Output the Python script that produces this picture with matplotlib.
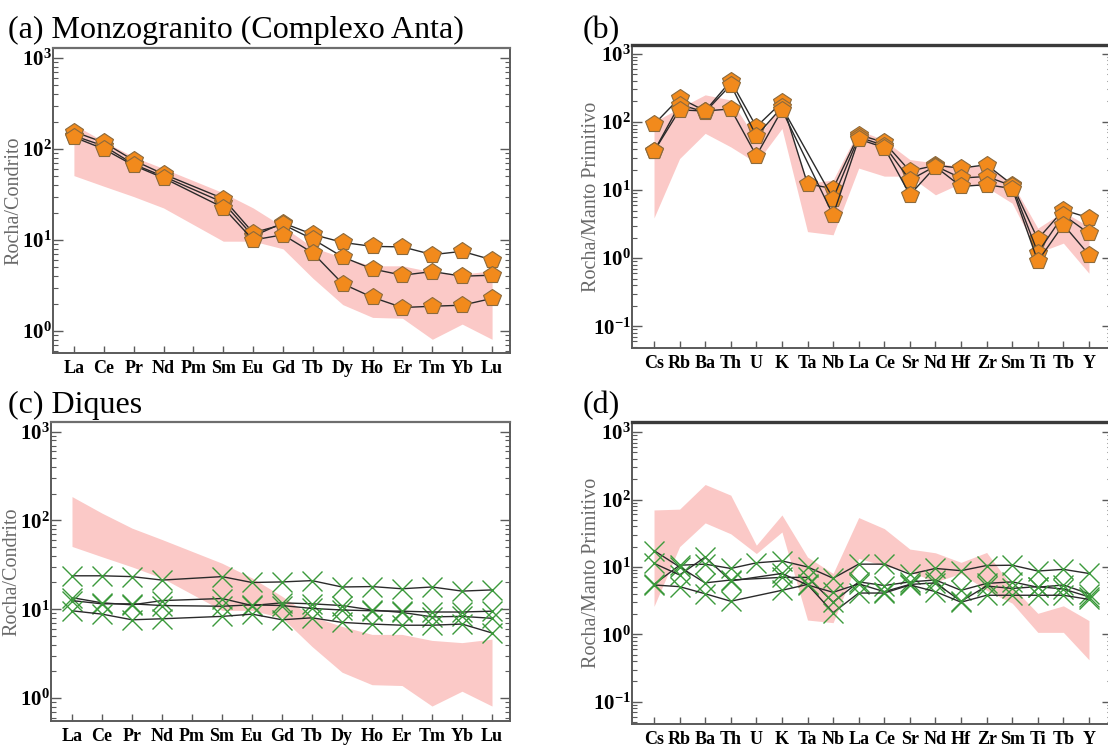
import numpy as np
import matplotlib
matplotlib.use("Agg")
import matplotlib.pyplot as plt
from matplotlib.ticker import FixedLocator, FuncFormatter, LogLocator, NullFormatter

plt.rcParams["font.family"] = ["Liberation Serif", "DejaVu Serif"]
plt.rcParams["mathtext.fontset"] = "custom"
plt.rcParams["mathtext.rm"] = "Liberation Serif"
plt.rcParams["mathtext.bf"] = "Liberation Serif:bold"
plt.rcParams["axes.unicode_minus"] = False

nan = np.nan

# ---- element lists -------------------------------------------------------
ree = ["La", "Ce", "Pr", "Nd", "Pm", "Sm", "Eu", "Gd", "Tb", "Dy", "Ho", "Er", "Tm", "Yb", "Lu"]
spider = ["Cs", "Rb", "Ba", "Th", "U", "K", "Ta", "Nb", "La", "Ce", "Sr", "Nd", "Hf", "Zr", "Sm", "Ti", "Tb", "Y"]

# ---- reference field (chondrite normalised) -------------------------------
ree_field_hi = [186, 121, 82, 61, nan, 33, 22.5, 14, 8.3, 6.4, 5.2, 5.2, 4.45, 4.2, 4.6]
ree_field_lo = [51, 39, 30, 22.5, nan, 9.7, 9.7, 8.0, 3.8, 1.95, 1.41, 1.38, 0.81, 1.19, 0.81]

# ---- reference field (primitive mantle normalised) ------------------------
pm_field_hi_b = [100, 160, 250, 210, 55, 188, 12.6, 14, 76, 54, 28, 25, 22, 23, 12.6, 2.75, 4.8, 2.9]
pm_field_lo_b = [3.9, 29, 68, 43, 25, 80, 2.45, 2.2, 21, 16, 16, 8.5, 12.6, 11, 6.4, 1.2, 1.66, 0.6]
pm_field_hi_d = [70, 72, 167, 116, 21, 59, 14, 8, 54, 37, 18.4, 16.2, 11.7, 16.4, 5.1, 2.05, 2.65, 1.6]
pm_field_lo_d = [2.6, 20, 45, 31, 15.8, 33, 1.63, 1.49, 13.4, 10.4, 8.5, 6.0, 8.0, 4.5, 2.9, 1.07, 1.07, 0.42]

# ---- monzogranite samples ------------------------------------------------
monzo_ree_1 = [140, 108, 68, 50, nan, 25.8, 11, 15.4, 11.5, 9.4, 8.5, 8.4, 6.9, 7.5, 6.05]
monzo_ree_2 = [155, 118, 75, 53, nan, 28.5, 12, 14.8, 10.2, 6.5, 4.8, 4.1, 4.5, 4.0, 4.1]
monzo_ree_3 = [135, 100, 66, 48, nan, 22.7, 10, 11.4, 7.2, 3.3, 2.34, 1.81, 1.87, 1.92, 2.28]

monzo_pm_1 = [92, 225, 145, 400, 85, 195, 12.3, 10.5, 65, 50, 19, 23, 21, 23.5, 12, 1.9, 5.1, 3.9]
monzo_pm_2 = [37, 180, 140, 350, 62, 165, nan, 7.5, 60, 45, 14, 22.5, 15, 15.8, 11.5, 1.2, 4.3, 2.3]
monzo_pm_3 = [37, 150, 145, 155, 32, 150, nan, 4.3, 56, 42, 8.5, 22, 11.3, 12, 10.5, 0.9, 3.1, 1.12]

# ---- dyke samples ----------------------------------------------------------
dike_ree_1 = [23.8, 23.8, 23.3, 21.3, nan, 23.3, 20, 20.3, 21, 17.8, 18, 17, 17.8, 16, 16.5]
dike_ree_2 = [13.5, 11.8, 11.2, 12.5, nan, 13.2, 11.0, 11.8, 11.5, 11.0, 9.8, 9.2, 8.2, 8.3, 7.9]
dike_ree_3 = [12.5, 11.5, 11.5, 11.0, nan, 10.8, 11.2, 11.0, 10.2, 9.8, 9.6, 9.5, 9.3, 9.3, 9.5]
dike_ree_4 = [9.6, 8.8, 7.6, 7.8, nan, 8.3, 8.8, 7.6, 8.0, 7.1, 6.8, 6.6, 6.6, 6.8, 5.4]

dike_pm_1 = [5.5, 10.6, 11.0, 9.5, 11.5, 12.3, 10.0, 6.8, 11.0, 11.0, 7.8, 9.5, 8.8, 10.5, 10.6, 8.7, 9.2, 8.0]
dike_pm_2 = [17.5, 10.0, 5.8, 6.4, nan, 7.0, 7.0, 3.0, 6.0, 5.3, 6.0, 6.4, 4.5, 5.7, 6.0, 5.0, 5.4, 4.0]
dike_pm_3 = [11.3, 7.6, 14.0, 6.2, nan, 8.0, 5.4, 4.2, 5.6, 4.3, 5.5, 5.8, 3.1, 5.2, 4.8, 5.1, 4.7, 3.6]
dike_pm_4 = [5.4, 5.1, 4.0, 3.1, nan, 4.5, 5.5, 2.1, 4.1, 4.1, 5.4, 4.3, 3.0, 3.8, 3.8, 3.8, 3.8, 3.3]

# ---- styling ---------------------------------------------------------------
FIELD_COLOR = "#fbc9c7"
ORANGE = "#f28a1c"
GREEN = "#3c9a3c"
SPINE = "#5a5a5a"

W, H = 1108, 749
fig = plt.figure(figsize=(W / 100, H / 100), dpi=100)


def add_panel(left, top, right, bottom):
    return fig.add_axes([left / W, 1 - bottom / H, (right - left) / W, (bottom - top) / H])


def pow_label(v, pos):
    e = int(round(np.log10(v)))
    return r"$\mathbf{10^{%d}}$" % e


def style_axes(ax, labels, xlim, ylim, majors, ylabel, label_x, top_color, top_width):
    x = np.arange(len(labels))
    ax.set_yscale("log")
    ax.set_xlim(*xlim)
    ax.set_ylim(*ylim)
    ax.xaxis.set_major_locator(FixedLocator(x))
    ax.set_xticklabels(labels, fontsize=13, fontweight="bold")
    ax.yaxis.set_major_locator(FixedLocator(majors))
    ax.yaxis.set_major_formatter(FuncFormatter(pow_label))
    ax.yaxis.set_minor_locator(LogLocator(base=10, subs=np.arange(2, 10), numticks=20))
    ax.yaxis.set_minor_formatter(NullFormatter())
    ax.tick_params(axis="x", direction="in", length=5, width=1, color=SPINE, pad=5, bottom=True, top=False)
    ax.tick_params(axis="y", which="major", direction="in", length=7, width=1, color=SPINE,
                   labelsize=15, pad=1, left=True, right=True)
    ax.tick_params(axis="y", which="minor", direction="in", length=3.5, width=0.8, color=SPINE,
                   left=True, right=True)
    for s in ("left", "bottom", "right"):
        ax.spines[s].set_color(SPINE)
        ax.spines[s].set_linewidth(1.4)
    ax.spines["top"].set_color(top_color)
    ax.spines["top"].set_linewidth(top_width)
    ax.set_ylabel(ylabel, fontsize=14.5, color="#6a6a6a")
    ax.yaxis.set_label_coords(label_x, 0.5)


def draw_field(ax, lo, hi):
    x = np.arange(len(lo))
    lo = np.asarray(lo, float)
    hi = np.asarray(hi, float)
    ok = np.isfinite(lo) & np.isfinite(hi)
    ax.fill_between(x[ok], lo[ok], hi[ok], color=FIELD_COLOR, lw=0, zorder=1)


def draw_series(ax, values, **kw):
    x = np.arange(len(values))
    v = np.asarray(values, float)
    ok = np.isfinite(v)
    ax.plot(x[ok], v[ok], color="#2a2a2a", lw=1.0, zorder=3, **kw)


pent = dict(marker="p", markersize=13, markerfacecolor=ORANGE, markeredgecolor="#8c6a3c", markeredgewidth=0.8)
cross = dict(marker="x", markersize=15, markeredgecolor=GREEN, markeredgewidth=1.0)

# (a) monzogranite REE
ax_a = add_panel(53, 48, 510, 353)
draw_field(ax_a, ree_field_lo, ree_field_hi)
for s in (monzo_ree_1, monzo_ree_2, monzo_ree_3):
    draw_series(ax_a, s, **pent)
style_axes(ax_a, ree, (-0.70, 14.6), (10 ** -0.242, 10 ** 3.11), [1, 10, 100, 1000],
           "Rocha/Condrito", -0.065, "#6e6e6e", 1.6)

# (b) monzogranite spider
ax_b = add_panel(632, 45, 1112, 348)
draw_field(ax_b, pm_field_lo_b, pm_field_hi_b)
for s in (monzo_pm_1, monzo_pm_2, monzo_pm_3):
    draw_series(ax_b, s, **pent)
style_axes(ax_b, spider, (-0.86, 17.9), (10 ** -1.32, 10 ** 3.13), [0.1, 1, 10, 100, 1000],
           "Rocha/Manto Primitivo", -0.065, "#3a3a3a", 2.4)

# (c) dykes REE
ax_c = add_panel(51, 422, 510, 721)
draw_field(ax_c, ree_field_lo, ree_field_hi)
for s in (dike_ree_1, dike_ree_2, dike_ree_3, dike_ree_4):
    draw_series(ax_c, s, **cross)
style_axes(ax_c, ree, (-0.70, 14.6), (10 ** -0.26, 10 ** 3.11), [1, 10, 100, 1000],
           "Rocha/Condrito", -0.065, "#6e6e6e", 1.6)

# (d) dykes spider
ax_d = add_panel(632, 422, 1112, 724)
draw_field(ax_d, pm_field_lo_d, pm_field_hi_d)
for s in (dike_pm_1, dike_pm_2, dike_pm_3, dike_pm_4):
    draw_series(ax_d, s, **cross)
style_axes(ax_d, spider, (-0.86, 17.9), (10 ** -1.33, 10 ** 3.15), [0.1, 1, 10, 100, 1000],
           "Rocha/Manto Primitivo", -0.065, "#3a3a3a", 2.4)

# panel captions
fig.text(8 / W, 1 - 38 / H, "(a) Monzogranito (Complexo Anta)", fontsize=23)
fig.text(583 / W, 1 - 38 / H, "(b)", fontsize=23)
fig.text(8 / W, 1 - 413 / H, "(c) Diques", fontsize=23)
fig.text(583 / W, 1 - 413 / H, "(d)", fontsize=23)

fig.savefig("out.png", dpi=100)
